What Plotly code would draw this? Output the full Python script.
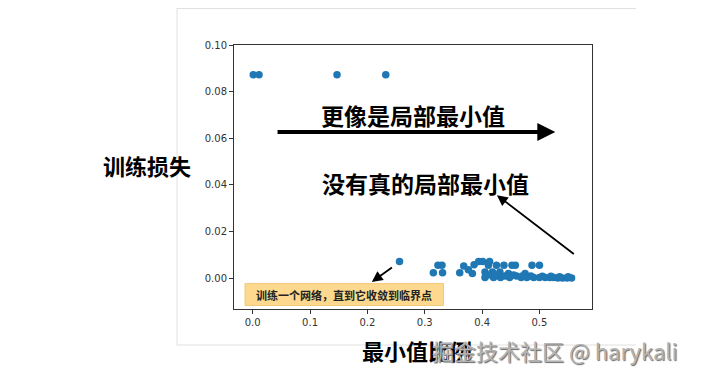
import plotly.graph_objects as go

# ---- data ----
min_ratio = [0.001, 0.011, 0.147, 0.232, 0.256,
             0.315, 0.323, 0.330, 0.331,
             0.361, 0.368, 0.376, 0.383, 0.386,
             0.394, 0.401, 0.405, 0.405, 0.411, 0.413, 0.418, 0.420,
             0.425, 0.431, 0.432, 0.438, 0.446, 0.448, 0.452, 0.458,
             0.460, 0.468, 0.475, 0.478, 0.487, 0.490, 0.500, 0.500,
             0.510, 0.518, 0.525, 0.532, 0.540, 0.548, 0.556,
             0.410, 0.425, 0.440, 0.455, 0.470, 0.485, 0.505, 0.520, 0.535, 0.550]
train_loss = [0.0872, 0.0872, 0.0872, 0.0872, 0.0072,
              0.0023, 0.0056, 0.0056, 0.0023,
              0.0023, 0.0052, 0.0036, 0.0020, 0.0058,
              0.0072, 0.0072, 0.0027, 0.0003, 0.0056, 0.0072, 0.0027, 0.0003,
              0.0056, 0.0027, 0.0003, 0.0056, 0.0020, 0.0003, 0.0056, 0.0056,
              0.0010, 0.0003, 0.0020, 0.0003, 0.0056, 0.0003, 0.0056, 0.0003,
              0.0003, 0.0003, 0.0003, 0.0001, 0.0001, 0.0001, 0.0001,
              0.0014, 0.0014, 0.0010, 0.0014, 0.0010, 0.0010, 0.0008, 0.0008, 0.0006, 0.0006]
x_ticks = [0.0, 0.1, 0.2, 0.3, 0.4, 0.5]
y_ticks = [0.00, 0.02, 0.04, 0.06, 0.08, 0.10]
x_title = "最小值比例"
y_title = "训练损失"
note_top = "更像是局部最小值"
note_mid = "没有真的局部最小值"
note_box = "训练一个网络，直到它收敛到临界点"
watermark = "掘金技术社区 @ harykali"

CJK = "Noto Sans CJK SC, Noto Sans, sans-serif"

fig = go.Figure()
fig.add_trace(go.Scatter(
    x=min_ratio, y=train_loss, mode="markers",
    marker=dict(color="#1f77b4", size=7.5, line=dict(width=0)),
    showlegend=False, hoverinfo="skip"))

fig.update_layout(
    width=724, height=377,
    margin=dict(l=226, r=140, t=37, b=76),
    paper_bgcolor="white", plot_bgcolor="white",
    font=dict(family="DejaVu Sans, sans-serif", size=10, color="#333"),
    xaxis=dict(range=[-0.0326, 0.5916], tickvals=x_ticks, tickformat=".1f",
               showgrid=False, zeroline=False, showline=True, mirror=True,
               linecolor="#333", linewidth=1, ticks="outside", ticklen=4,
               tickcolor="#333"),
    yaxis=dict(range=[-0.0132, 0.1], tickvals=y_ticks, tickformat=".2f",
               showgrid=False, zeroline=False, showline=True, mirror=True,
               linecolor="#333", linewidth=1, ticks="outside", ticklen=4,
               tickcolor="#333"),
)

shapes = []
# faint outer frame (slide picture border)
for x0, y0, x1, y1 in [(-0.1592, -0.1364, -0.1592, 1.1629),
                       (-0.1592, 1.138, 1.1229, 1.138),
                       (-0.1592, -0.1364, 1.1229, -0.1364)]:
    shapes.append(dict(type="line", xref="paper", yref="paper",
                       x0=x0, y0=y0, x1=x1, y1=y1,
                       line=dict(color="#e0e0e0", width=1)))
# yellow note box
shapes.append(dict(type="rect", xref="x", yref="y",
                   x0=-0.0134, x1=0.3326, y0=-0.0117, y1=-0.0023,
                   fillcolor="#fcd98e", line=dict(color="#f3c878", width=1)))
fig.update_layout(shapes=shapes)

ann = []
ann.append(dict(x=0.1596, y=-0.0070, xref="x", yref="y", text="<b>%s</b>" % note_box,
                xanchor="center", yanchor="middle",
                showarrow=False, font=dict(family=CJK, size=11, color="#222")))
ann.append(dict(x=0.2789, y=0.0699, xref="x", yref="y", text="<b>%s</b>" % note_top,
                xanchor="center", yanchor="middle",
                showarrow=False, font=dict(family=CJK, size=23, color="black")))
ann.append(dict(x=0.3007, y=0.0407, xref="x", yref="y", text="<b>%s</b>" % note_mid,
                xanchor="center", yanchor="middle",
                showarrow=False, font=dict(family=CJK, size=23, color="black")))
# arrows
ann.append(dict(x=0.5276, y=0.0627, ax=0.0407, ay=0.0627, xref="x", yref="y",
                axref="x", ayref="y", text="", showarrow=True, arrowhead=2,
                arrowsize=0.9, arrowwidth=4, arrowcolor="black"))
ann.append(dict(x=0.4258, y=0.0356, ax=0.5625, ay=0.0099, xref="x", yref="y",
                axref="x", ayref="y", text="", showarrow=True, arrowhead=2,
                arrowsize=1.2, arrowwidth=1.8, arrowcolor="black"))
ann.append(dict(x=0.2077, y=-0.0016, ax=0.2454, ay=0.0051, xref="x", yref="y",
                axref="x", ayref="y", text="", showarrow=True, arrowhead=2,
                arrowsize=1.2, arrowwidth=1.8, arrowcolor="black"))
# axis titles
ann.append(dict(x=-0.243, y=0.545, xref="paper", yref="paper",
                xanchor="center", yanchor="middle",
                text="<b>%s</b>" % y_title, showarrow=False,
                font=dict(family=CJK, size=22, color="black")))
ann.append(dict(x=0.511, y=-0.155, xref="paper", yref="paper",
                xanchor="center", yanchor="middle",
                text="<b>%s</b>" % x_title, showarrow=False,
                font=dict(family=CJK, size=22, color="black")))
# watermark
ann.append(dict(x=0.547, y=-0.155, xref="paper", yref="paper",
                xanchor="left", yanchor="middle",
                text=watermark, showarrow=False,
                font=dict(family=CJK, size=22, color="#b4b4b4",
                          shadow="1px 1px 1px #666")))
fig.update_layout(annotations=ann)

fig.write_html("out.html")
